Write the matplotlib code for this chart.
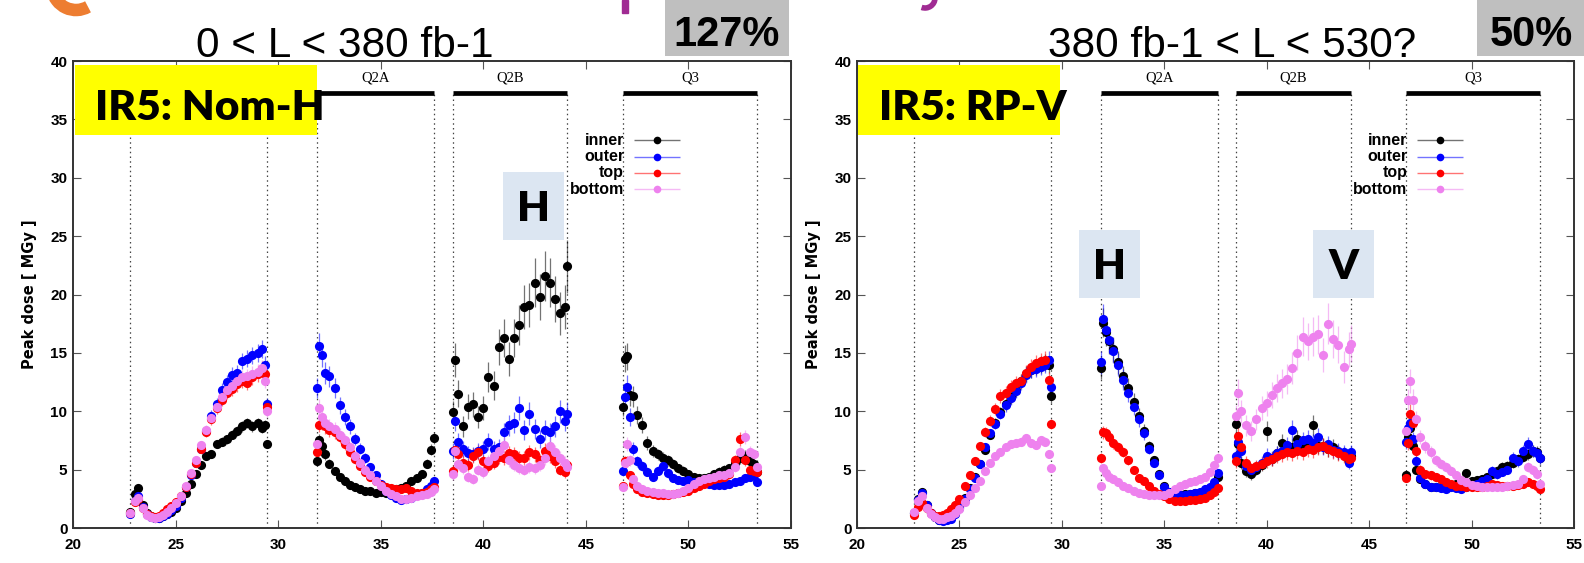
import matplotlib.pyplot as plt
from matplotlib.colors import to_rgba
from matplotlib.patches import Rectangle, Arc

# longitudinal positions [m] of the sampled points, one list per magnet
pos_q1 = [22.8, 23.0, 23.15, 23.4, 23.6, 23.8, 24.0, 24.2, 24.4, 24.6, 24.8, 25.0, 25.25, 25.5,
          25.75, 26.0, 26.25, 26.5, 26.75, 27.0, 27.25, 27.5, 27.75, 28.0, 28.25, 28.5, 28.75,
          29.0, 29.2, 29.35, 29.45]
pos_q2a = [31.9, 32.0, 32.15, 32.3, 32.5, 32.75, 33.0, 33.25, 33.5, 33.75, 34.0, 34.25, 34.5,
           34.75, 35.0, 35.25, 35.5, 35.75, 36.0, 36.25, 36.5, 36.75, 37.0, 37.25, 37.45, 37.6]
pos_q2b = [38.5, 38.6, 38.75, 39.0, 39.25, 39.5, 39.75, 40.0, 40.25, 40.5, 40.75, 41.0, 41.25,
           41.5, 41.75, 42.0, 42.25, 42.5, 42.75, 43.0, 43.25, 43.5, 43.75, 44.0, 44.1]
pos_q3 = [46.8, 46.9, 47.0, 47.15, 47.3, 47.5, 47.75, 48.0, 48.25, 48.5, 48.75, 49.0, 49.25,
          49.5, 49.75, 50.0, 50.25, 50.5, 50.75, 51.0, 51.25, 51.5, 51.75, 52.0, 52.25, 52.5,
          52.75, 53.0, 53.2, 53.35]
positions = [pos_q1, pos_q2a, pos_q2b, pos_q3]

magnet_names = [None, 'Q2A', 'Q2B', 'Q3']
magnet_edges = [(22.8, 29.45), (31.9, 37.6), (38.5, 44.1), (46.8, 53.35)]
rel_err = [0.05, 0.07, 0.10, 0.08]

# peak dose [MGy], nominal H crossing, 0 < L < 380 fb-1
nomh_inner = [
    [1.4, 2.9, 3.4, 2.0, 1.3, 1.0, 0.85, 0.85, 1.0, 1.2, 1.4, 1.7, 2.3, 3.0, 3.8, 4.6, 5.4, 6.2,
     6.3, 7.2, 7.4, 7.6, 8.0, 8.3, 8.7, 9.0, 8.7, 9.0, 8.6, 8.8, 7.2],
    [5.7, 7.5, 7.0, 6.3, 5.5, 4.9, 4.4, 4.0, 3.7, 3.5, 3.3, 3.2, 3.2, 3.0, 3.1, 3.0, 3.2, 3.3,
     3.4, 3.6, 4.0, 4.3, 4.6, 5.5, 6.7, 7.7],
    [9.9, 14.4, 11.5, 8.7, 10.4, 10.6, 9.5, 10.3, 12.9, 12.2, 15.5, 16.3, 14.5, 16.3, 17.4,
     18.9, 19.1, 21.0, 19.8, 21.6, 21.0, 19.6, 18.4, 18.9, 22.4],
    [10.4, 14.5, 14.7, 11.4, 11.3, 9.7, 8.8, 7.3, 6.6, 6.3, 6.0, 5.8, 5.5, 5.1, 4.9, 4.6, 4.4,
     4.3, 4.3, 4.4, 4.6, 4.8, 5.0, 5.1, 5.6, 6.0, 6.2, 5.7, 5.5, 4.8],
]
nomh_outer = [
    [1.2, 2.3, 2.7, 1.8, 1.2, 0.95, 0.85, 0.85, 1.0, 1.2, 1.5, 1.9, 2.6, 3.5, 4.5, 5.6, 6.8,
     8.3, 9.6, 10.6, 11.8, 12.5, 13.1, 13.3, 14.3, 14.5, 14.8, 15.0, 15.3, 14.0, 10.6],
    [12.0, 15.6, 14.8, 13.3, 13.0, 12.0, 10.5, 9.5, 8.7, 7.6, 6.8, 6.0, 5.2, 4.5, 3.8, 3.2,
     2.8, 2.6, 2.4, 2.5, 2.6, 2.8, 3.0, 3.3, 3.6, 4.0],
    [6.6, 9.2, 7.4, 6.8, 6.4, 6.3, 6.6, 6.8, 7.4, 6.8, 6.9, 8.2, 8.8, 9.0, 10.3, 8.4, 9.8, 8.5,
     7.6, 8.4, 8.2, 8.7, 10.0, 9.2, 9.8],
    [4.9, 11.2, 12.1, 9.5, 6.8, 5.7, 5.3, 4.8, 4.4, 4.9, 5.3, 4.7, 4.3, 4.1, 4.0, 4.1, 3.9,
     3.8, 3.9, 3.8, 3.7, 3.7, 3.7, 3.8, 3.9, 4.0, 4.3, 4.4, 4.5, 3.9],
]
nomh_top = [
    [1.3, 2.2, 2.5, 1.7, 1.2, 1.0, 0.9, 1.0, 1.3, 1.6, 1.9, 2.2, 2.7, 3.5, 4.6, 5.6, 6.8, 8.2,
     9.3, 10.3, 11.0, 11.6, 11.9, 12.3, 12.6, 12.4, 12.9, 13.2, 13.6, 13.2, 10.4],
    [6.5, 8.8, 9.0, 8.7, 8.4, 8.2, 7.8, 7.2, 6.5, 5.9, 5.3, 4.8, 4.4, 4.0, 3.7, 3.5, 3.4, 3.3,
     3.3, 3.4, 3.2, 3.0, 3.0, 3.1, 3.3, 3.5],
    [4.9, 6.7, 6.3, 5.6, 5.4, 6.2, 6.5, 5.7, 5.3, 5.6, 6.1, 6.0, 6.4, 6.3, 6.0, 6.0, 6.5, 6.3,
     5.8, 6.6, 6.2, 5.7, 5.0, 4.8, 5.4],
    [3.6, 5.7, 5.7, 4.5, 3.8, 3.3, 3.1, 3.0, 2.9, 2.8, 2.8, 2.8, 2.9, 3.0, 3.1, 3.2, 3.4, 3.6,
     3.8, 4.0, 4.2, 4.3, 4.4, 4.6, 5.8, 7.6, 5.8, 5.0, 4.9, 4.8],
]
nomh_bottom = [
    [1.3, 2.3, 2.6, 1.7, 1.1, 0.9, 0.85, 0.9, 1.1, 1.4, 1.7, 2.1, 2.7, 3.6, 4.7, 5.8, 7.1, 8.4,
     9.4, 10.4, 11.2, 11.8, 12.2, 12.6, 12.9, 13.0, 13.2, 13.4, 13.7, 12.6, 10.0],
    [7.2, 10.3, 9.5, 9.0, 8.7, 8.5, 8.0, 7.5, 6.9, 6.2, 5.6, 5.0, 4.5, 4.0, 3.6, 3.2, 2.9, 2.7,
     2.5, 2.5, 2.6, 2.7, 2.8, 2.9, 3.1, 3.3],
    [4.6, 6.6, 5.5, 5.1, 4.4, 4.2, 5.0, 4.8, 5.7, 6.2, 6.6, 7.1, 5.8, 5.4, 5.1, 5.0, 5.2, 5.1,
     5.4, 6.0, 7.0, 6.5, 6.0, 5.6, 5.2],
    [3.5, 5.6, 7.2, 5.8, 4.2, 3.6, 3.3, 3.2, 3.1, 3.0, 3.0, 2.9, 2.9, 3.0, 3.2, 3.4, 3.8, 4.0,
     4.2, 4.3, 4.4, 4.5, 4.5, 4.7, 5.2, 6.5, 7.8, 6.5, 6.3, 5.2],
]

# peak dose [MGy], RP-V crossing, 380 fb-1 < L < 530
rpv_inner = [
    [1.3, 2.5, 3.1, 2.0, 1.3, 0.9, 0.7, 0.65, 0.75, 0.9, 1.3, 1.8, 2.6, 3.4, 4.4, 5.5, 6.7,
     8.0, 9.0, 9.9, 10.6, 11.2, 11.8, 12.6, 13.2, 13.5, 13.8, 14.0, 14.2, 14.0, 11.3],
    [13.7, 17.6, 16.8, 16.0, 15.3, 14.2, 13.0, 12.0, 10.8, 9.6, 8.3, 7.0, 5.8, 4.6, 3.6, 3.1,
     2.9, 2.8, 2.9, 2.9, 3.0, 3.0, 3.2, 3.4, 3.7, 4.4],
    [8.9, 7.2, 5.6, 4.9, 4.6, 5.0, 5.4, 8.3, 5.9, 6.4, 7.3, 6.8, 6.9, 7.6, 7.0, 7.1, 8.8, 7.0,
     7.0, 6.8, 6.9, 6.5, 6.3, 5.8, 6.2],
    [4.5, 7.8, 8.6, 7.0, 5.0, 4.2, 3.8, 3.5, 3.5, 3.5, 3.6, 3.6, 3.8, 3.9, 4.7, 4.0, 4.1, 4.2,
     4.4, 4.6, 4.9, 5.2, 5.3, 5.6, 5.9, 6.1, 6.3, 6.6, 6.5, 6.0],
]
rpv_outer = [
    [1.3, 2.4, 3.0, 2.0, 1.3, 0.9, 0.7, 0.6, 0.7, 0.8, 1.2, 1.7, 2.5, 3.3, 4.3, 5.5, 6.9, 8.1,
     8.9, 9.8, 10.5, 11.1, 11.7, 12.4, 13.1, 13.5, 13.6, 13.8, 14.0, 14.4, 12.1],
    [14.2, 17.9, 17.0, 16.1, 15.2, 14.0, 12.7, 11.6, 10.4, 9.3, 8.1, 6.8, 5.6, 4.5, 3.5, 3.1,
     2.8, 2.8, 2.8, 2.9, 3.0, 3.1, 3.3, 3.5, 3.9, 4.7],
    [6.2, 7.4, 6.6, 5.3, 5.0, 5.2, 5.6, 6.2, 6.0, 6.4, 6.6, 7.1, 8.4, 7.2, 7.5, 7.6, 7.3, 7.8,
     6.9, 7.2, 6.7, 6.6, 6.5, 5.6, 6.5],
    [7.4, 8.6, 9.0, 7.6, 5.7, 4.3, 3.8, 3.5, 3.5, 3.4, 3.3, 3.5, 3.4, 3.3, 3.5, 3.6, 3.75, 4.0,
     4.2, 4.9, 4.6, 4.8, 5.0, 6.0, 5.7, 6.6, 7.2, 6.6, 6.4, 6.0],
]
rpv_top = [
    [1.1, 1.8, 2.1, 1.7, 1.3, 1.0, 1.0, 1.1, 1.3, 1.6, 2.0, 2.5, 3.6, 4.5, 5.7, 7.0, 8.2, 9.2,
     10.2, 11.3, 11.6, 12.1, 12.4, 12.6, 13.3, 13.8, 14.1, 14.3, 14.4, 12.7, 8.9],
    [6.0, 8.2, 8.1, 7.8, 7.3, 6.9, 6.5, 5.8, 5.0, 4.3, 4.0, 3.6, 3.2, 2.9, 2.7, 2.5, 2.3, 2.3,
     2.3, 2.4, 2.4, 2.5, 2.6, 2.8, 3.1, 3.4],
    [5.7, 7.9, 6.9, 5.6, 5.1, 5.3, 5.5, 5.7, 5.9, 6.2, 6.3, 6.5, 6.4, 6.6, 6.5, 6.8, 6.7, 6.9,
     7.0, 6.8, 6.6, 6.4, 6.2, 5.9, 6.0],
    [4.3, 7.3, 9.8, 9.0, 6.6, 5.0, 4.6, 4.5, 4.4, 4.2, 3.9, 3.75, 3.6, 3.6, 3.5, 3.5, 3.5, 3.5,
     3.6, 3.8, 3.7, 3.6, 3.6, 3.6, 3.7, 3.8, 3.9, 3.8, 3.6, 3.3],
]
rpv_bottom = [
    [1.4, 2.3, 2.7, 1.7, 1.2, 0.9, 0.8, 0.8, 0.9, 1.0, 1.3, 1.6, 2.2, 2.8, 3.4, 4.0, 4.9, 5.6,
     6.2, 6.5, 6.9, 7.2, 7.3, 7.4, 7.7, 7.3, 7.1, 7.5, 7.4, 6.3, 5.1],
    [3.6, 5.1, 4.7, 4.4, 4.2, 3.9, 3.6, 3.4, 3.2, 3.0, 2.9, 2.8, 2.8, 2.8, 2.8, 3.0, 3.3, 3.6,
     3.8, 3.9, 4.0, 4.2, 4.4, 4.8, 5.4, 6.0],
    [9.6, 11.6, 10.0, 8.8, 8.3, 9.3, 10.3, 10.7, 11.4, 12.0, 12.4, 12.8, 13.7, 15.0, 16.4,
     16.0, 16.4, 16.6, 14.8, 17.5, 16.2, 15.7, 13.8, 15.3, 15.8],
    [8.3, 11.0, 12.6, 11.0, 9.3, 7.8, 7.0, 6.5, 5.8, 5.5, 5.2, 4.9, 4.5, 4.1, 3.9, 3.7, 3.6,
     3.5, 3.5, 3.5, 3.5, 3.5, 3.6, 3.7, 3.8, 4.2, 5.2, 5.0, 4.6, 3.8],
]

labels = ['inner', 'outer', 'top', 'bottom']
colors = ['black', 'blue', 'red', 'violet']

W, H = 1584, 563
SANS = ['Liberation Sans', 'DejaVu Sans']


def fx(px):
    return px / W


def fy(py):
    return 1 - py / H


def draw_panel(ax, series):
    ax.set_xlim(20, 55)
    ax.set_ylim(0, 40)
    ax.set_xticks(range(20, 56, 5))
    ax.set_yticks(range(0, 41, 5))
    ax.tick_params(direction='in', top=True, right=True, length=6, width=0.8,
                   labelsize=11, color='#555555')
    ax.tick_params(axis='y', pad=4)
    ax.tick_params(axis='x', pad=7)
    for lab in ax.get_xticklabels() + ax.get_yticklabels():
        lab.set_fontweight('bold')
        lab.set_family(SANS)
    for sp in ax.spines.values():
        sp.set_linewidth(1.4)
        sp.set_color('#333333')
    ax.set_ylabel('Peak dose [ MGy ]', fontsize=10.5, fontweight='bold', labelpad=10)

    # magnet boundaries and names
    for name, (x0, x1) in zip(magnet_names, magnet_edges):
        for xe in (x0, x1):
            ax.plot([xe, xe], [0, 37.3], ls=(0, (1.2, 2.6)), lw=0.9, color='#444444', zorder=1)
        ax.plot([x0, x1], [37.3, 37.3], color='black', lw=3.4, solid_capstyle='butt', zorder=2)
        if name:
            ax.text((x0 + x1) / 2, 38.0, name, family='Liberation Serif', fontsize=10.5,
                    ha='center', va='bottom')

    for color, ys in zip(colors, series):
        ecol = to_rgba(color, 0.55)
        for xs, yv, rel in zip(positions, ys, rel_err):
            err = [max(v * rel, 0.25) for v in yv]
            ax.errorbar(xs, yv, yerr=err, fmt='o', ms=6.6, mew=0, color=color, ecolor=ecol,
                        elinewidth=0.9, capsize=2.8, capthick=0.9, zorder=3)

    # key
    for i, (name, color) in enumerate(zip(labels, colors)):
        yk = 33.2 - i * 1.39
        ax.errorbar([48.47], [yk], xerr=[[1.12]], fmt='o', ms=5.5, mew=0, color=color,
                    ecolor=to_rgba(color, 0.55), elinewidth=1.0, capsize=3, capthick=1.0,
                    zorder=4)
        ax.text(46.86, yk, name, ha='right', va='center', fontsize=11.5, fontweight='bold',
                family=SANS, zorder=4)


fig = plt.figure(figsize=(W / 100, H / 100), dpi=100)
ax_l = fig.add_axes([fx(73), fy(528), (791 - 73) / W, (528 - 61) / H])
ax_r = fig.add_axes([fx(857), fy(528), (1574 - 857) / W, (528 - 61) / H])
draw_panel(ax_l, [nomh_inner, nomh_outer, nomh_top, nomh_bottom])
draw_panel(ax_r, [rpv_inner, rpv_outer, rpv_top, rpv_bottom])


def box(x0, y0, x1, y1, color):
    fig.add_artist(Rectangle((fx(x0), fy(y1)), (x1 - x0) / W, (y1 - y0) / H,
                             transform=fig.transFigure, facecolor=color, edgecolor='none',
                             zorder=5))


# slide overlays
box(75, 65, 317, 135, '#ffff00')
box(858, 65, 1060, 135, '#ffff00')
fig.text(fx(95), fy(120), 'IR5: Nom-H', family='Lato', fontweight='heavy', fontsize=30.5,
         va='baseline', zorder=6)
fig.text(fx(879), fy(120), 'IR5: RP-V', family='Lato', fontweight='heavy', fontsize=30.5,
         va='baseline', zorder=6)

for x0, y0, letter in [(503, 172, 'H'), (1079, 230, 'H'), (1313, 230, 'V')]:
    box(x0, y0, x0 + 61, y0 + 68, '#dce6f2')
    fig.text(fx(x0 + 30.5), fy(y0 + 49), letter, family='Lato', fontweight='heavy',
             fontsize=30.5, ha='center', va='baseline', zorder=6)

fig.text(fx(345), fy(57), '0 < L < 380 fb-1', family=SANS, fontsize=30.5, ha='center',
         va='baseline')
fig.text(fx(1232), fy(57), '380 fb-1 < L < 530?', family=SANS, fontsize=30.5, ha='center',
         va='baseline')

box(665, 0, 789, 56, '#bfbfbf')
box(1477, 0, 1584, 56, '#bfbfbf')
fig.text(fx(727), fy(46), '127%', family=SANS, fontweight='bold', fontsize=30,
         ha='center', va='baseline', zorder=6)
fig.text(fx(1531), fy(46), '50%', family=SANS, fontweight='bold', fontsize=30,
         ha='center', va='baseline', zorder=6)

# bits of the slide heading cut off at the top edge
fig.add_artist(Arc((76, H + 14), 48, 48, theta1=190, theta2=300, lw=9, color='#ed7d31',
                   transform=None, zorder=5))
fig.add_artist(Rectangle((622, H - 13), 6, 13, color='#a02b93', transform=None, zorder=5))
fig.add_artist(Arc((925, H + 2), 20, 20, theta1=250, theta2=360, lw=4, color='#a02b93',
                   transform=None, zorder=5))

fig.savefig('out.png', dpi=100)
